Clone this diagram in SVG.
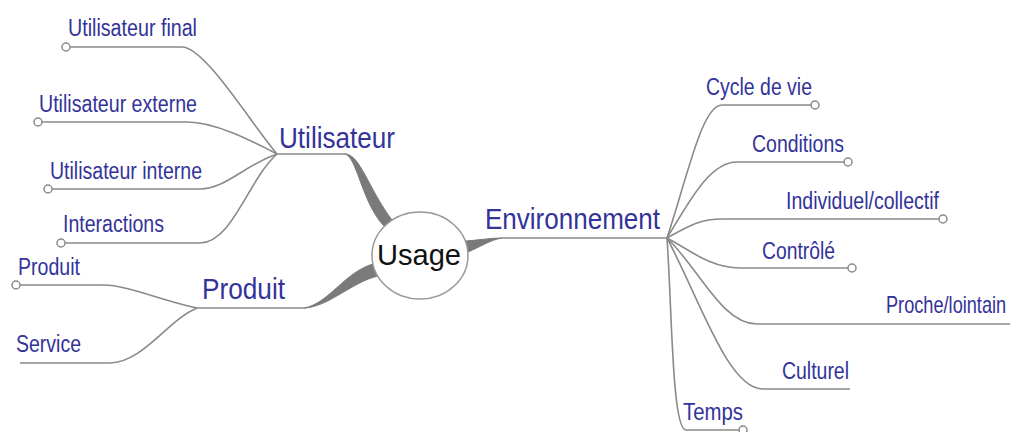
<svg xmlns="http://www.w3.org/2000/svg" width="1010" height="432" viewBox="0 0 1010 432">
<style>
.lbl{font-family:"Liberation Sans",Arial,sans-serif;font-size:23px;fill:#33339a}
.big{font-family:"Liberation Sans",Arial,sans-serif;font-size:29px;fill:#33339a}
.root{font-family:"Liberation Sans",Arial,sans-serif;font-size:30px;fill:#111}
.ln{fill:none;stroke:#8a8a8a;stroke-width:1.6}
.thick{fill:#7a7a7a;stroke:#7a7a7a;stroke-width:1}
.dot{fill:#fff;stroke:#8a8a8a;stroke-width:1.5}
</style>
<rect width="1010" height="432" fill="#fff"/>
<g id="connectors">
  <path class="ln" d="M277,154 L346,154"/>
  <path class="thick" d="M345,154 C360,154 368,188 392,220 L384,226 C362,203 357,157 345,154 Z"/>
  <path class="ln" d="M197,308 L306,308"/>
  <path class="thick" d="M305,308 C330,302 345,272 373,264 L378,276 C352,282 330,306 305,308 Z"/>
  <path class="thick" d="M466,241 C480,240 490,238 502,238 C490,240 480,247 468,252 Z"/>
  <path class="ln" d="M502,238 L667,238"/>
  <path class="ln" d="M277,154 C252,125 205,47 182,47 L70,47"/>
  <path class="ln" d="M277,154 C250,140 215,122 187,122 L42,122"/>
  <path class="ln" d="M277,154 C245,165 225,189 200,189 L52,189"/>
  <path class="ln" d="M277,154 C248,180 232,243 200,243 L65,243"/>
  <path class="ln" d="M197,308 C160,300 127,285 103,285 L20,285"/>
  <path class="ln" d="M197,308 C168,320 142,363 110,363 L20,363"/>
  <path class="ln" d="M667,238 C688,175 702,105 722,105 L811,105"/>
  <path class="ln" d="M667,238 C690,200 710,162 737,162 L844,162"/>
  <path class="ln" d="M667,238 C690,225 700,219 723,219 L939,219"/>
  <path class="ln" d="M667,238 C690,250 710,268 740,268 L848,268"/>
  <path class="ln" d="M667,238 C700,270 722,324 757,324 L1012,324"/>
  <path class="ln" d="M667,238 C700,300 728,389 763,389 L850,389"/>
  <path class="ln" d="M667,238 C672,310 672,430 686,430 L739,430"/>
</g>
<g id="usage">
  <ellipse cx="420" cy="255.5" rx="48" ry="43.5" fill="#fff" stroke="#999" stroke-width="1.5"/>
  <text class="root" x="377" y="265" textLength="84" lengthAdjust="spacingAndGlyphs">Usage</text>
</g>
<g id="utilisateur">
  <text class="big" x="279" y="148" textLength="116" lengthAdjust="spacingAndGlyphs">Utilisateur</text>
</g>
<g id="utilisateur-final">
  <circle class="dot" cx="66" cy="47" r="4"/>
  <text class="lbl" x="68" y="36" textLength="129" lengthAdjust="spacingAndGlyphs">Utilisateur final</text>
</g>
<g id="utilisateur-externe">
  <circle class="dot" cx="38" cy="122" r="4"/>
  <text class="lbl" x="39" y="112" textLength="158" lengthAdjust="spacingAndGlyphs">Utilisateur externe</text>
</g>
<g id="utilisateur-interne">
  <circle class="dot" cx="48" cy="189" r="4"/>
  <text class="lbl" x="50" y="179" textLength="152" lengthAdjust="spacingAndGlyphs">Utilisateur interne</text>
</g>
<g id="interactions">
  <circle class="dot" cx="61" cy="243" r="4"/>
  <text class="lbl" x="63" y="232" textLength="101" lengthAdjust="spacingAndGlyphs">Interactions</text>
</g>
<g id="produit">
  <text class="big" x="202" y="299" textLength="83" lengthAdjust="spacingAndGlyphs">Produit</text>
</g>
<g id="produit-produit">
  <circle class="dot" cx="16" cy="285" r="4"/>
  <text class="lbl" x="18" y="275" textLength="62" lengthAdjust="spacingAndGlyphs">Produit</text>
</g>
<g id="service">
  <text class="lbl" x="16" y="352" textLength="65" lengthAdjust="spacingAndGlyphs">Service</text>
</g>
<g id="environnement">
  <text class="big" x="485" y="229" textLength="175" lengthAdjust="spacingAndGlyphs">Environnement</text>
</g>
<g id="cycle-de-vie">
  <circle class="dot" cx="815" cy="105" r="4"/>
  <text class="lbl" x="706" y="95" textLength="106" lengthAdjust="spacingAndGlyphs">Cycle de vie</text>
</g>
<g id="conditions">
  <circle class="dot" cx="848" cy="162" r="4"/>
  <text class="lbl" x="752" y="152" textLength="92" lengthAdjust="spacingAndGlyphs">Conditions</text>
</g>
<g id="individuel-collectif">
  <circle class="dot" cx="943" cy="219" r="4"/>
  <text class="lbl" x="786" y="209" textLength="153" lengthAdjust="spacingAndGlyphs">Individuel/collectif</text>
</g>
<g id="controle">
  <circle class="dot" cx="852" cy="268" r="4"/>
  <text class="lbl" x="762" y="259" textLength="73" lengthAdjust="spacingAndGlyphs">Contrôlé</text>
</g>
<g id="proche-lointain">
  <text class="lbl" x="0" y="0" transform="matrix(0.79 0 0 1 886 313)">Proche/lointain</text>
</g>
<g id="culturel">
  <text class="lbl" x="782" y="379" textLength="67" lengthAdjust="spacingAndGlyphs">Culturel</text>
</g>
<g id="temps">
  <circle class="dot" cx="743" cy="430" r="4"/>
  <text class="lbl" x="683" y="420" textLength="60" lengthAdjust="spacingAndGlyphs">Temps</text>
</g>
</svg>
